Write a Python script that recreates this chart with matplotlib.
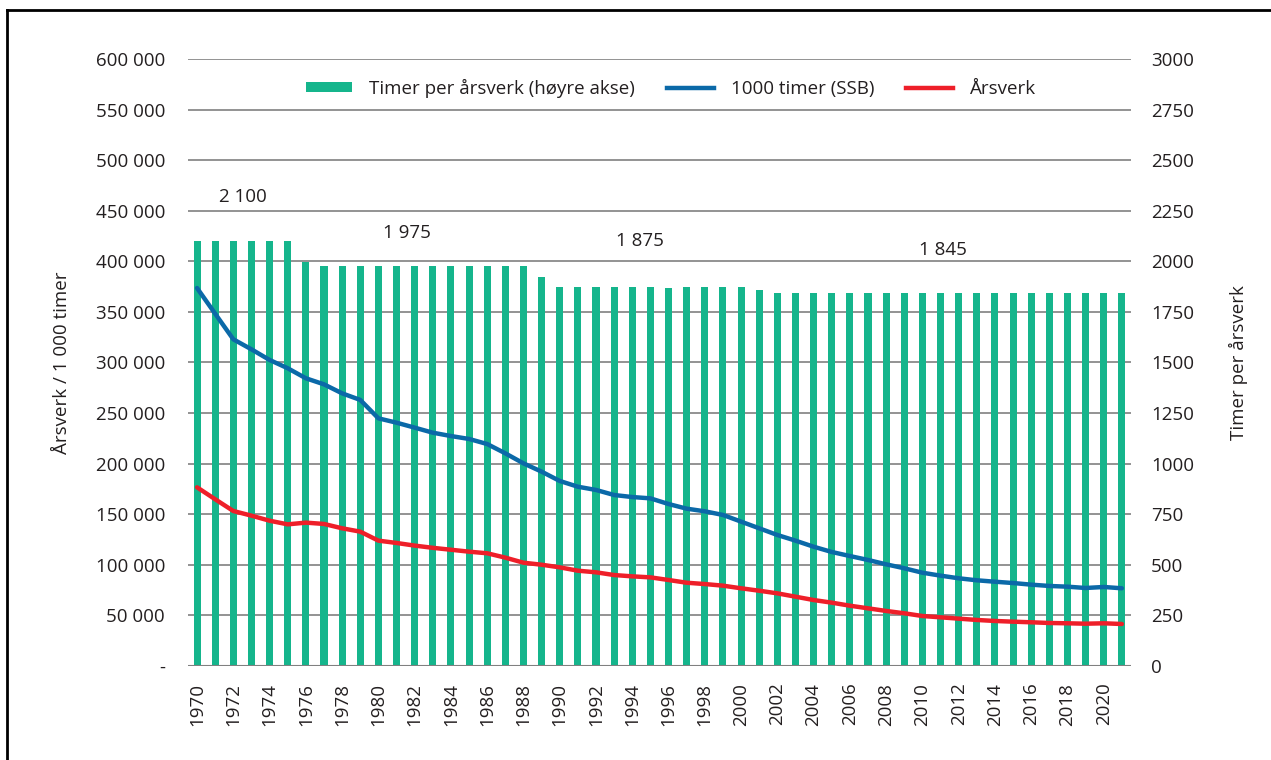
import matplotlib
matplotlib.use("Agg")
import matplotlib.pyplot as plt
from matplotlib.lines import Line2D
from matplotlib.patches import Patch
from matplotlib.ticker import FuncFormatter, FixedLocator

plt.rcParams['font.family'] = ['Open Sans', 'DejaVu Sans']

years = list(range(1970, 2022))

timer_per_arsverk = [2100, 2100, 2100, 2100, 2100, 2100, 1995,
                     1975, 1975, 1975, 1975, 1975, 1975, 1975, 1975, 1975, 1975, 1975, 1975,
                     1922,
                     1872, 1872, 1872, 1872, 1872, 1872, 1870, 1872, 1874, 1872, 1872,
                     1857,
                     1843, 1843, 1843, 1843, 1843, 1843, 1843, 1843, 1843, 1843,
                     1843, 1843, 1843, 1843, 1843, 1843, 1843, 1843, 1844, 1843]

timer_1000 = [373600, 348200, 322900, 313000, 302500, 294300, 284400, 278400, 269500, 263000,
              244800, 240500, 235600, 230600, 227300, 224400, 219400, 210200, 200300, 192100,
              182900, 177200, 174000, 169000, 167000, 165700, 160100, 155500, 152900, 149300,
              142700, 136100, 129500, 123900, 117900, 112700, 108700, 104800, 100500, 96600,
              92200, 89300, 86700, 84700, 83300, 82000, 80400, 79100, 78400, 77100,
              78100, 76800]

arsverk = [176600, 164800, 153200, 148600, 143600, 140000, 141700, 140400, 136100, 132800,
           123900, 121600, 119000, 116800, 114900, 113000, 111400, 107100, 102100, 100100,
           97500, 94200, 92600, 89900, 88600, 87600, 85000, 82300, 81000, 79400,
           76800, 74400, 71800, 68500, 65200, 62600, 59600, 57000, 54400, 52100,
           49400, 48100, 46800, 45500, 44500, 43800, 43200, 42500, 42200, 41800,
           42200, 41500]

level_labels = ["2 100", "1 975", "1 875", "1 845"]

GREEN = "#15B58C"
BLUE = "#0B69A8"
RED = "#EE1F29"
TXT = "#231F20"
GRID = "#808080"
FS = 13.5

fig = plt.figure(figsize=(12.71, 7.60), dpi=100)
ax = fig.add_axes([0.1479, 0.1237, 0.7419, 0.7987])
ax2 = ax.twinx()

x = list(range(len(years)))

ax2.bar(x, timer_per_arsverk, width=0.39, color=GREEN, zorder=2)
ax2.set_ylim(0, 3000)
ax2.yaxis.set_major_locator(FixedLocator(list(range(0, 3001, 250))))

ax.set_zorder(ax2.get_zorder() + 1)
ax.patch.set_visible(False)

ax.plot(x, timer_1000, color=BLUE, lw=3.2, solid_capstyle='round', zorder=4)
ax.plot(x, arsverk, color=RED, lw=3.2, solid_capstyle='round', zorder=4)

ax.set_ylim(0, 600000)
ax.set_xlim(-0.5, len(years) - 0.5)
ax.yaxis.set_major_locator(FixedLocator(list(range(0, 600001, 50000))))

def left_fmt(v, pos):
    if v == 0:
        return "-"
    return f"{int(v):,}".replace(",", " ")

ax.yaxis.set_major_formatter(FuncFormatter(left_fmt))

ax2.grid(False)
for yv in range(50000, 600001, 50000):
    ax2.axhline(yv / 200, color=GRID, lw=1.2, zorder=1)
ax2.axhline(0, color=GRID, lw=1.5, zorder=3)

ax.set_xticks(x[::2])
ax.set_xticklabels([str(y) for y in years[::2]], rotation=90)

for a in (ax, ax2):
    for s in a.spines.values():
        s.set_visible(False)
    a.tick_params(length=0, labelsize=FS, colors=TXT)

ax.tick_params(axis='y', pad=16.5)
ax2.tick_params(axis='y', pad=14.5)
ax.tick_params(axis='x', pad=12)

ax.set_ylabel("Årsverk / 1 000 timer", fontsize=FS, color=TXT, labelpad=18)
ax2.set_ylabel("Timer per årsverk", fontsize=FS, color=TXT, labelpad=25)

ann_pos = [(2.52, 2319), (11.6, 2140), (24.4, 2100), (41.15, 2056)]
for (px, py), t in zip(ann_pos, level_labels):
    ax2.text(px, py, t, ha='center', va='center', fontsize=FS, color=TXT, zorder=5)

handles = [Patch(facecolor=GREEN, edgecolor='none'),
           Line2D([0], [0], color=BLUE, lw=3.2),
           Line2D([0], [0], color=RED, lw=3.2)]
labels = ["Timer per årsverk (høyre akse)", "1000 timer (SSB)", "Årsverk"]
leg = ax.legend(handles, labels, loc='center', bbox_to_anchor=(0.512, 0.952), ncol=3,
                frameon=False, fontsize=FS, handlelength=2.5, handleheight=0.5,
                columnspacing=1.7, handletextpad=0.9)
for t in leg.get_texts():
    t.set_color(TXT)

fig.add_artist(Line2D([7 / 1271, 1.0], [1 - 10 / 760, 1 - 10 / 760], color='black', lw=2,
                      transform=fig.transFigure))
fig.add_artist(Line2D([7 / 1271, 7 / 1271], [0, 1 - 10 / 760], color='black', lw=2,
                      transform=fig.transFigure))

fig.savefig("out.png", dpi=100, facecolor='white')
